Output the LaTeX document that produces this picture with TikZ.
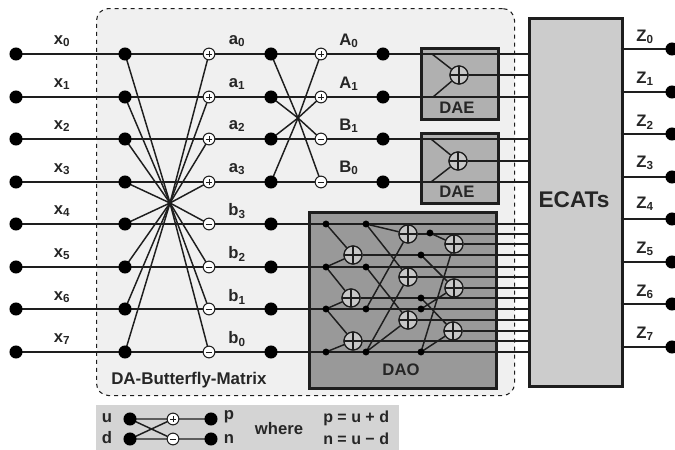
\documentclass[tikz,border=0pt]{standalone}
\usepackage{fontspec}
\setmainfont{Liberation Sans}
\newcommand{\lbl}[2]{\textbf{#1\textsubscript{#2}}}
\definecolor{ink}{HTML}{1E1E1E}
\definecolor{txt}{HTML}{262626}
\tikzset{
 x=0.75pt,y=-0.75pt,
 wire/.style={draw=ink,line width=1.1pt},
 bigdot/.style={circle,fill=black,inner sep=0pt,minimum size=9.8pt},
 smalldot/.style={circle,fill=black,inner sep=0pt,minimum size=5.2pt},
 addplus/.style={circle,draw=ink,fill=white,line width=0.8pt,inner sep=0pt,minimum size=8.8pt,
   path picture={\draw[ink,line width=0.7pt] ([xshift=-2.4pt]path picture bounding box.center)--([xshift=2.4pt]path picture bounding box.center)
     ([yshift=-2.4pt]path picture bounding box.center)--([yshift=2.4pt]path picture bounding box.center);}},
 addminus/.style={circle,draw=ink,fill=white,line width=0.8pt,inner sep=0pt,minimum size=8.8pt,
   path picture={\draw[ink,line width=0.7pt] ([xshift=-2.4pt]path picture bounding box.center)--([xshift=2.4pt]path picture bounding box.center);}},
 bigadd/.style={circle,draw=ink,fill=#1,line width=0.9pt,inner sep=0pt,minimum size=13.5pt,
   path picture={\draw[ink,line width=0.8pt] (path picture bounding box.north)--(path picture bounding box.south)
     (path picture bounding box.west)--(path picture bounding box.east);}},
 lab/.style={text=txt,font=\bfseries\fontsize{12.5}{14}\selectfont,inner sep=0pt},
 bigbox/.style={draw=#1,line width=2.4pt,inner sep=0pt,anchor=north west},
}
\begin{document}
\begin{tikzpicture}
\useasboundingbox (0,0) rectangle (675,450);
% panels
\node[draw=ink,dashed,line width=0.8pt,fill=black!6,rounded corners=9pt,inner sep=0pt,anchor=north west,minimum width=418*0.75pt,minimum height=387*0.75pt] (matrix) at (96,8) {};
\node[fill=black!17,inner sep=0pt,anchor=north west,minimum width=303*0.75pt,minimum height=45*0.75pt] (legend) at (96,405) {};
\node[bigbox=ink,fill=black!31,minimum width=77*0.75pt,minimum height=71*0.75pt] (dae1) at (419.5,46.5) {};
\node[bigbox=ink,fill=black!31,minimum width=77*0.75pt,minimum height=70*0.75pt] (dae2) at (419.5,132) {};
\node[bigbox=ink,fill=black!40,minimum width=187*0.75pt,minimum height=176*0.75pt] (dao) at (308,210.5) {};
\node[bigbox=ink,fill=black!20,minimum width=93*0.75pt,minimum height=368*0.75pt] (ecats) at (527.5,16.5) {};
\node[lab,font=\bfseries\fontsize{17}{19}\selectfont] (ecatstxt) at (574,200) {ECATs};
\node[lab] (daetxt1) at (457,108) {DAE};
\node[lab] (daetxt2) at (457,192) {DAE};
\node[lab] (daotxt) at (401,370) {DAO};
\node[lab,font=\bfseries\fontsize{12.7}{15}\selectfont,anchor=west] (mtxt) at (111,380) {DA-Butterfly-Matrix};
% rows
\coordinate (hub1) at (170,203);
\coordinate (hub2) at (298,118);
\foreach \i/\y in {0/54,1/97,2/139,3/182,4/224,5/267,6/309,7/352}{
  \coordinate (in\i) at (16,\y);
  \coordinate (bf\i) at (125,\y);
  \coordinate (cc\i) at (209,\y);
  \coordinate (dd\i) at (271,\y);
  \draw[wire] (in\i) -- (in\i -| ecats.west);
}
\foreach \i/\y in {0/54,1/97,2/139,3/182}{\coordinate (ee\i) at (321,\y);}
\foreach \i/\j in {0/7,1/6,2/5,3/4,4/3,5/2,6/1,7/0}{\draw[wire] (bf\i) -- (hub1) -- (cc\j);}
\foreach \i/\j in {0/3,1/2,2/1,3/0}{\draw[wire] (dd\i) -- (hub2) -- (ee\j);}
% DAE
\coordinate (t1) at (432,54); \coordinate (b1) at (433,97);
\coordinate (t2) at (431,139); \coordinate (b2) at (431,182);
\node[bigadd=black!22] (sum1) at (459,75) {};
\node[bigadd=black!22] (sum2) at (458,161) {};
\draw[wire] (t1)--(sum1) (b1)--(sum1) (t2)--(sum2) (b2)--(sum2);
\draw[wire] (sum1)--(sum1 -| ecats.west);
\draw[wire] (sum2)--(sum2 -| ecats.west);
% DAO dots
\foreach \n/\a/\b in {p0/326/224,p1/326/267,p2/326/309,p3/326/352,q0/366/224,q1/366/267,q2/366/309,q3/366/352,
   r0/430/233,r1/421/255,r2/421/298,r3/421/309,r4/421/352}{\coordinate (\n) at (\a,\b);}
\foreach \n/\a/\b in {A/353/255,B/351/298,C/353/341,D/408/234,E/408/277,F/408/320,G/454/244,H/454/288,I/453/331}{
  \node[bigadd=black!22] (\n) at (\a,\b) {};
}
\foreach \n in {A,B,C,D,E,F,G,H,I}{\draw[wire] (\n)--(\n -| ecats.west);}
\draw[wire] (p0)--(A) (p1)--(A) (p1)--(B) (p2)--(B) (p2)--(C) (p3)--(C);
\draw[wire] (q0)--(D) (q2)--(D) (q0)--(E) (q3)--(E) (q1)--(F) (q3)--(F);
\draw[wire] (r0)--(G) (r4)--(G) (r1)--(H) (r3)--(H) (r2)--(I) (r4)--(I);
\foreach \n/\a/\b in {A/353/255,B/351/298,C/353/341,D/408/234,E/408/277,F/408/320,G/454/244,H/454/288,I/453/331}{
  \node[bigadd=black!22] (\n) at (\a,\b) {};
}
\node[bigadd=black!22] (sum1) at (459,75) {};
\node[bigadd=black!22] (sum2) at (458,161) {};
\foreach \n in {p0,p1,p2,p3,q0,q1,q2,q3,r0,r1,r2,r3,r4}{\node[smalldot] at (\n) {};}
% row nodes
\foreach \i in {0,...,7}{
  \node[bigdot] at (in\i) {};
  \node[bigdot] at (bf\i) {};
  \node[bigdot] at (dd\i) {};
}
\foreach \i in {0,1,2,3}{\node[addplus] at (cc\i) {};}
\foreach \i in {4,5,6,7}{\node[addminus] at (cc\i) {};}
\foreach \n/\y/\s/\k in {f0/54/addplus/0,f1/97/addplus/1,f2/139/addminus/2,f3/182/addminus/3}{
  \node[\s] (\n) at (ee\k) {};
  \node[bigdot] at (383,\y) {};
}
% labels
\foreach \i/\y in {0/41,1/84,2/126,3/169,4/211,5/254,6/297,7/339}{\node[lab] at (62,\y) {\lbl{x}{\i}};}
\foreach \t/\s/\y in {a/0/41,a/1/84,a/2/126,a/3/169,b/3/211,b/2/254,b/1/297,b/0/339}{\node[lab] at (237,\y) {\lbl{\t}{\s}};}
\foreach \t/\s/\y in {A/0/41,A/1/84,B/1/126,B/0/168}{\node[lab] at (349,\y) {\lbl{\t}{\s}};}
% outputs
\foreach \i/\y/\ly in {0/49/37,1/92/79,2/134/122,3/177/163,4/219/204,5/262/249,6/304/292,7/347/334}{
  \coordinate (zo\i) at (672,\y);
  \draw[wire] (ecats.west |- zo\i) ++(93,0) -- (zo\i);
  \node[bigdot] at (zo\i) {};
  \node[lab] at (645,\ly) {\lbl{Z}{\i}};
}
% legend
\coordinate (lu) at (130,419); \coordinate (ld) at (130,439);
\coordinate (lp) at (173,419); \coordinate (lm) at (173,439);
\coordinate (lo) at (211,419); \coordinate (ln) at (211,439);
\draw[wire] (lu)--(lp) (lu)--(lm) (ld)--(lp) (ld)--(lm) (lp)--(lo) (lm)--(ln);
\node[bigdot] at (lu) {}; \node[bigdot] at (ld) {};
\node[bigdot] at (lo) {}; \node[bigdot] at (ln) {};
\node[addplus] at (lp) {}; \node[addminus] at (lm) {};
\node[lab] at (107,418) {u};
\node[lab] at (107,438) {d};
\node[lab] at (229,417) {p};
\node[lab] at (229,439) {n};
\node[lab] at (279,429) {where};
\node[lab,anchor=west,font=\bfseries\fontsize{12}{14}\selectfont] at (323,418) {p = u + d};
\node[lab,anchor=west,font=\bfseries\fontsize{12}{14}\selectfont] at (323,439) {n = u − d};
\end{tikzpicture}
\end{document}
